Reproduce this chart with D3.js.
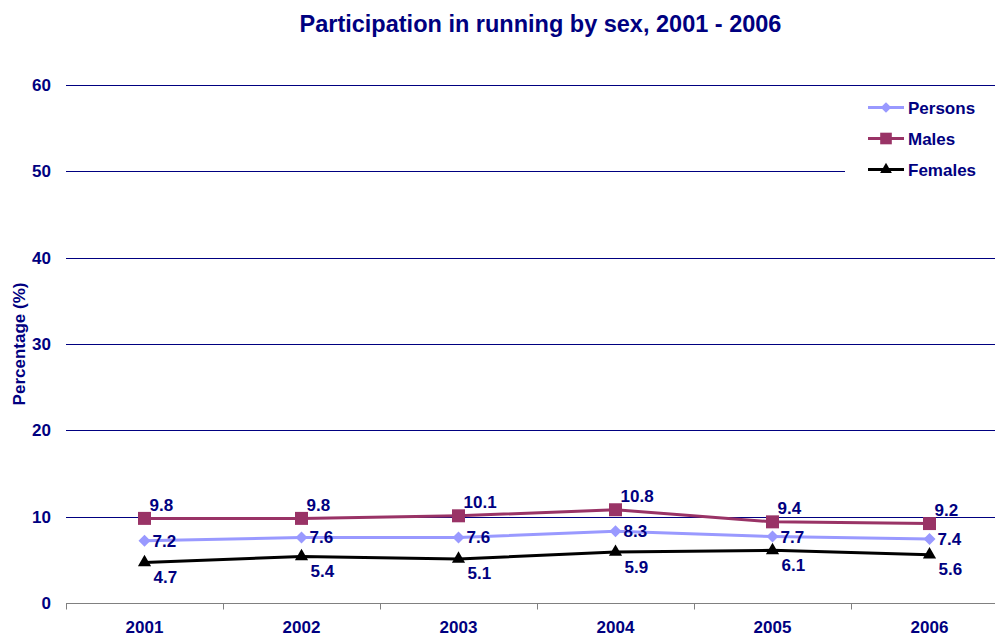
<!DOCTYPE html>
<html>
<head>
<meta charset="utf-8">
<script src="https://cdn.jsdelivr.net/npm/d3@7"></script>
<style>
  html, body { margin: 0; padding: 0; background: #fff; }
  svg { display: block; font-family: "Liberation Sans", Arial, sans-serif; }
</style>
</head>
<body>
<svg id="chart" width="995" height="637"></svg>
<script>
const years = ["2001", "2002", "2003", "2004", "2005", "2006"];
const persons = [7.2, 7.6, 7.6, 8.3, 7.7, 7.4];
const males = [9.8, 9.8, 10.1, 10.8, 9.4, 9.2];
const females = [4.7, 5.4, 5.1, 5.9, 6.1, 5.6];
const yTicks = [0, 10, 20, 30, 40, 50, 60];

const navy = "#000080";
const series = [
  { name: "Persons", values: persons, color: "#9999FF", symbol: d3.symbolDiamond2, size: 92, lx: 8, ly: 6 },
  { name: "Males", values: males, color: "#993366", symbol: d3.symbolSquare, size: 169, lx: 5, ly: -7.5 },
  { name: "Females", values: females, color: "#000000", symbol: d3.symbolTriangle, size: 75, lx: 9, ly: 20.5 }
];

const svg = d3.select("#chart");
const plotLeft = 66, plotRight = 1008, plotTop = 85, plotBottom = 603;
const fontSize = 17;

const x = d3.scaleBand().domain(years).range([plotLeft, plotRight]);
const y = d3.scaleLinear().domain([0, 60]).range([plotBottom, plotTop]);

// Title
svg.append("text")
  .attr("x", 540.5).attr("y", 32)
  .attr("text-anchor", "middle")
  .attr("font-size", 23.5).attr("font-weight", "bold")
  .attr("fill", navy)
  .text("Participation in running by sex, 2001 - 2006");

// Horizontal gridlines
svg.append("g")
  .selectAll("line")
  .data(yTicks.filter(t => t > 0))
  .join("line")
  .attr("x1", plotLeft).attr("x2", 995)
  .attr("y1", d => Math.round(y(d)) + 0.5).attr("y2", d => Math.round(y(d)) + 0.5)
  .attr("stroke", navy).attr("stroke-width", 1);

// Y tick labels
svg.append("g")
  .selectAll("text")
  .data(yTicks)
  .join("text")
  .attr("x", 51).attr("y", d => y(d) + 6)
  .attr("text-anchor", "end")
  .attr("font-size", fontSize).attr("font-weight", "bold")
  .attr("fill", navy)
  .text(d => d);

// Y axis title
svg.append("text")
  .attr("transform", `translate(25,${(plotTop + plotBottom) / 2}) rotate(-90)`)
  .attr("text-anchor", "middle")
  .attr("font-size", fontSize).attr("font-weight", "bold")
  .attr("fill", navy)
  .text("Percentage (%)");

// X axis
const xAxis = svg.append("g").attr("transform", `translate(0,${plotBottom + 0.5})`);
xAxis.append("line")
  .attr("x1", plotLeft).attr("x2", 995)
  .attr("stroke", "#808080").attr("stroke-width", 1);
xAxis.selectAll("line.tick")
  .data(years)
  .join("line")
  .attr("class", "tick")
  .attr("x1", d => Math.round(x(d)) + 0.5).attr("x2", d => Math.round(x(d)) + 0.5)
  .attr("y1", 0).attr("y2", 6)
  .attr("stroke", "#808080");
xAxis.selectAll("text")
  .data(years)
  .join("text")
  .attr("x", d => x(d) + x.bandwidth() / 2)
  .attr("y", 29)
  .attr("text-anchor", "middle")
  .attr("font-size", fontSize).attr("font-weight", "bold")
  .attr("fill", navy)
  .text(d => d);

// Legend box (white, covers the gridline behind it)
const legend = svg.append("g");
legend.append("rect")
  .attr("x", 845).attr("y", 90).attr("width", 150).attr("height", 96)
  .attr("fill", "#fff");

// Series lines, markers and value labels
const cx = d => x(d) + x.bandwidth() / 2;
const line = d3.line().x((v, i) => cx(years[i])).y(v => y(v));

const plot = svg.append("g");
series.forEach(s => {
  plot.append("path")
    .attr("d", line(s.values))
    .attr("fill", "none")
    .attr("stroke", s.color).attr("stroke-width", 3);
});
series.forEach(s => {
  plot.append("g")
    .selectAll("path")
    .data(s.values)
    .join("path")
    .attr("transform", (v, i) => `translate(${cx(years[i])},${y(v)})`)
    .attr("d", d3.symbol().type(s.symbol).size(s.size))
    .attr("fill", s.color);
  plot.append("g")
    .selectAll("text")
    .data(s.values)
    .join("text")
    .attr("x", (v, i) => cx(years[i]) + s.lx)
    .attr("y", v => y(v) + s.ly)
    .attr("font-size", fontSize).attr("font-weight", "bold")
    .attr("fill", navy)
    .text(v => v.toFixed(1));
});

// Legend entries
const items = legend.selectAll("g.item")
  .data(series)
  .join("g")
  .attr("class", "item")
  .attr("transform", (d, i) => `translate(0,${107.5 + i * 31})`);
items.append("line")
  .attr("x1", 868).attr("x2", 904)
  .attr("stroke", d => d.color).attr("stroke-width", 3);
items.append("path")
  .attr("transform", "translate(886,0)")
  .attr("d", d => d3.symbol().type(d.symbol).size(d.size * 0.8)())
  .attr("fill", d => d.color);
items.append("text")
  .attr("x", 908).attr("y", 6)
  .attr("font-size", fontSize).attr("font-weight", "bold")
  .attr("fill", navy)
  .text(d => d.name);
</script>
</body>
</html>
